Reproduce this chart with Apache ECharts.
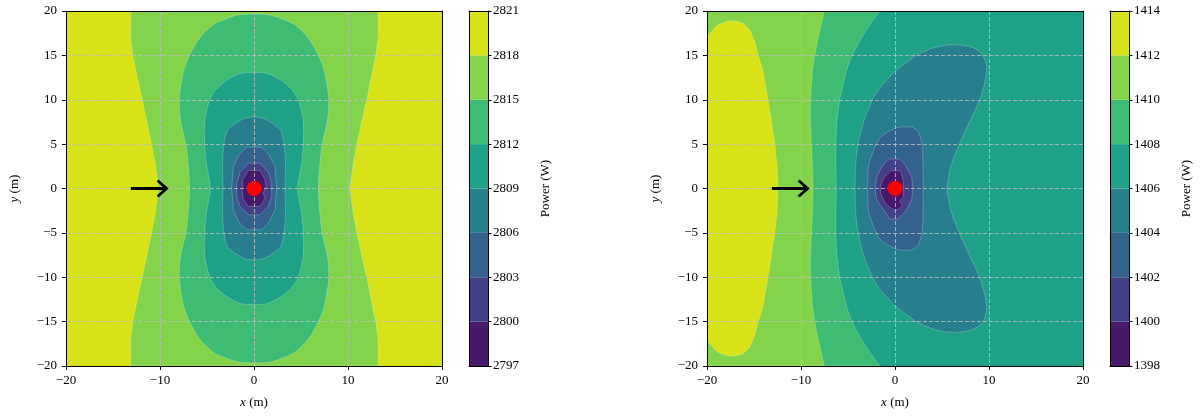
<!DOCTYPE html>
<html><head><meta charset="utf-8">
<script src="https://cdn.jsdelivr.net/npm/echarts@6/dist/echarts.min.js"></script>
<style>html,body{margin:0;padding:0;background:#fff}#c{width:1200px;height:416px}</style>
</head><body><div id="c"></div>
<script>
// ---------------- data ----------------
const leftLevels = [2797, 2800, 2803, 2806, 2809, 2812, 2815, 2818, 2821];
const rightLevels = [1398, 1400, 1402, 1404, 1406, 1408, 1410, 1412, 1414];
const xTickStep = 10, yTickStep = 5, axisMin = -20, axisMax = 20;
const bandColors = ['#48186a', '#424086', '#33638d', '#277f8e', '#1fa188', '#3fbc73', '#84d44b', '#d8e219'];

// Left panel contour regions (x, y in m)
const leftFull = [[-20, -20], [20, -20], [20, 20], [-20, 20]]; // 2818-2821
const leftBelow2818 = [[-13.1, 20], [-13.15, 17], [-12.9, 15], [-12.55, 13.2], [-11.9, 10], [-11.4, 7.5], [-10.9, 5], [-10.5, 2.7], [-10.15, 0], [-10.5, -2.7], [-10.9, -5], [-11.4, -7.5], [-11.9, -10], [-12.55, -13.2], [-12.9, -15], [-13.15, -17], [-13.1, -20],
  [13.2, -20], [13.2, -17], [12.95, -15], [12.6, -13.2], [12.0, -10], [11.45, -7.5], [10.95, -5], [10.55, -2.7], [10.2, 0], [10.55, 2.7], [10.95, 5], [11.45, 7.5], [12.0, 10], [12.6, 13.2], [12.95, 15], [13.2, 17], [13.2, 20]];
const leftBelow2815 = [[0, 19.65], [1.7, 19.55], [3.0, 19.1], [4.35, 18.44], [5.8, 16.94], [6.85, 15], [7.5, 13.2], [7.95, 10], [7.8, 7.55], [7.25, 5], [7.0, 2.67], [6.85, 0], [7.0, -2.67], [7.25, -5], [7.8, -7.55], [7.95, -10], [7.5, -13.2], [6.85, -15], [5.8, -16.94], [4.35, -18.44], [3.0, -19.1], [1.7, -19.55], [0, -19.65],
  [-1.7, -19.55], [-3.0, -19.1], [-4.35, -18.44], [-5.8, -16.94], [-6.85, -15], [-7.5, -13.2], [-7.95, -10], [-7.8, -7.55], [-7.25, -5], [-7.0, -2.67], [-6.85, 0], [-7.0, 2.67], [-7.25, 5], [-7.8, 7.55], [-7.95, 10], [-7.5, 13.2], [-6.85, 15], [-5.8, 16.94], [-4.35, 18.44], [-3.0, 19.1], [-1.7, 19.55]];
const leftBelow2812 = [[0, 13.05], [1.3, 13.0], [2.5, 12.44], [3.5, 11.7], [4.2, 10.93], [4.7, 10], [5.1, 8.5], [5.25, 7.55], [5.25, 5], [5.05, 2.67], [4.65, 0], [5.05, -2.67], [5.25, -5], [5.25, -7.55], [5.1, -8.5], [4.7, -10], [4.2, -10.93], [3.5, -11.7], [2.5, -12.44], [1.3, -13.0], [0, -13.05],
  [-1.3, -13.0], [-2.5, -12.44], [-3.5, -11.7], [-4.2, -10.93], [-4.7, -10], [-5.1, -8.5], [-5.25, -7.55], [-5.25, -5], [-5.05, -2.67], [-4.65, 0], [-5.05, 2.67], [-5.25, 5], [-5.25, 7.55], [-5.1, 8.5], [-4.7, 10], [-4.2, 10.93], [-3.5, 11.7], [-2.5, 12.44], [-1.3, 13.0]];
const leftBelow2809 = [[0, 8.05], [0.9, 7.95], [1.65, 7.55], [2.4, 7.0], [2.9, 6.43], [3.2, 5.0], [3.35, 2.67], [3.3, 0], [3.35, -2.67], [3.2, -5.0], [2.9, -6.43], [2.4, -7.0], [1.65, -7.55], [0.9, -7.95], [0, -8.05],
  [-0.9, -7.95], [-1.65, -7.55], [-2.4, -7.0], [-2.9, -6.43], [-3.2, -5.0], [-3.35, -2.67], [-3.3, 0], [-3.35, 2.67], [-3.2, 5.0], [-2.9, 6.43], [-2.4, 7.0], [-1.65, 7.55], [-0.9, 7.95]];
const leftBelow2806 = [[-0.78, 4.66], [0.82, 4.66], [1.6, 3.8], [2.23, 2.48], [2.41, 0], [2.23, -2.4], [1.6, -3.8], [0.82, -4.65], [-0.78, -4.65], [-1.6, -3.8], [-2.2, -2.4], [-2.38, 0], [-2.2, 2.48], [-1.6, 3.8]];
const leftBelow2803 = [[-0.6, 2.86], [0.64, 2.86], [1.52, 1.84], [1.88, 0.57], [1.88, -0.9], [1.52, -2.02], [0.64, -2.96], [-0.6, -2.96], [-1.49, -2.02], [-1.84, -0.9], [-1.84, 0.57], [-1.49, 1.84]];
const leftBelow2800 = [[-0.6, 2.03], [0.64, 2.03], [1.17, 0.98], [1.28, 0.2], [0.95, -0.5], [1.2, -1.1], [0.64, -2.0], [-0.6, -2.0], [-1.14, -1.27], [-1.25, -0.2], [-1.21, 0.98]];

// Right panel contour regions
const rightFull = [[-20, -20], [20, -20], [20, 20], [-20, 20]]; // 1406-1408
const rightAbove1408 = [[-20, 20], [-1.6, 20], [-2.7, 18.44], [-3.6, 16.94], [-4.6, 15], [-5.2, 13.19], [-5.9, 10], [-6.2, 7.55], [-6.3, 5], [-6.3, 2.67], [-6.25, 0], [-6.3, -2.67], [-6.3, -5], [-6.2, -7.55], [-5.9, -10], [-5.2, -13.19], [-4.6, -15], [-3.6, -16.94], [-2.7, -18.44], [-1.6, -20], [-20, -20]];
const rightAbove1410 = [[-20, 20], [-7.52, 20], [-8.19, 16.94], [-8.55, 15], [-8.79, 13.19], [-9.01, 10], [-9.01, 7.55], [-8.9, 5], [-8.79, 2.67], [-8.72, 0], [-8.79, -2.67], [-8.9, -5], [-9.01, -7.55], [-9.01, -10], [-8.79, -13.19], [-8.55, -15], [-8.19, -16.94], [-7.52, -20], [-20, -20]];
const rightAbove1412 = [[-20, 17.13], [-18.95, 18.37], [-17.94, 18.82], [-17.06, 18.89], [-16.17, 18.63], [-15.46, 17.88], [-14.93, 16.57], [-14.57, 15.06], [-14.04, 13.19], [-13.51, 9.99], [-13.16, 7.55], [-12.8, 5.0], [-12.55, 2.67], [-12.45, 0], [-12.55, -2.67], [-12.8, -5.0], [-13.16, -7.55], [-13.51, -9.99], [-14.04, -13.19], [-14.57, -15.06], [-14.93, -16.57], [-15.46, -17.88], [-16.17, -18.63], [-17.06, -18.89], [-17.94, -18.82], [-18.95, -18.37], [-20, -17.13]];
const rightBelow1406 = [[-4.25, 0], [-4.18, 2.67], [-3.94, 5.0], [-3.33, 7.55], [-2.4, 9.99], [-1.63, 11.31], [0, 13.19], [2.27, 15.0], [4.04, 15.82], [5.82, 16.19], [7.94, 16.0], [9.18, 15.25], [9.72, 13.94], [9.65, 12.44], [9.01, 9.99], [7.94, 7.55], [6.85, 5.0], [5.99, 2.67], [5.64, 0.79], [5.53, 0],
  [5.64, -0.79], [5.99, -2.67], [6.85, -5.0], [7.94, -7.55], [9.01, -9.99], [9.65, -12.44], [9.72, -13.94], [9.18, -15.25], [7.94, -16.0], [5.82, -16.19], [4.04, -15.82], [2.27, -15.0], [0, -13.19], [-1.63, -11.31], [-2.4, -9.99], [-3.33, -7.55], [-3.94, -5.0], [-4.18, -2.67]];
const rightBelow1404 = [[-2.9, 0], [-2.8, 2.67], [-2.0, 5.0], [-1.63, 5.67], [-0.9, 6.3], [0.35, 6.9], [1.8, 6.9], [2.45, 6.43], [2.87, 5.0], [2.98, 2.67], [3.0, 0], [2.98, -2.67], [2.87, -5.0], [2.45, -6.43], [1.8, -6.9], [0.35, -6.9], [-0.9, -6.3], [-1.63, -5.67], [-2.0, -5.0], [-2.8, -2.67]];
const rightBelow1402 = [[-0.71, 3.31], [0.53, 3.31], [1.06, 2.68], [1.77, 1.35], [1.88, 0], [1.77, -1.27], [1.24, -2.39], [0.35, -3.45], [-0.53, -3.45], [-1.24, -2.39], [-1.95, -1.27], [-2.13, 0], [-1.95, 1.35], [-1.24, 2.68]];
const rightBelow1400 = [[-0.45, 2.0], [0.6, 2.0], [0.89, 0.79], [0.89, -1.0], [0.5, -1.4], [0.75, -1.9], [0.35, -2.39], [-0.18, -2.39], [-1.06, -1.65], [-1.55, -0.5], [-1.55, 0.45], [-1.06, 1.35]];

const turbine = [[0, 0]];
const windArrow = [[-13.1, 0], [-9.3, 0]];

// region lists: [polygon, band index, smoothing]
const leftRegions = [[leftFull, 7, 0], [leftBelow2818, 6, 0], [leftBelow2815, 5, 0.3], [leftBelow2812, 4, 0.3], [leftBelow2809, 3, 0.3], [leftBelow2806, 2, 0], [leftBelow2803, 1, 0], [leftBelow2800, 0, 0]];
const rightRegions = [[rightFull, 4, 0], [rightAbove1408, 5, 0], [rightAbove1410, 6, 0], [rightAbove1412, 7, 0], [rightBelow1406, 3, 0.3], [rightBelow1404, 2, 0.2], [rightBelow1402, 1, 0], [rightBelow1400, 0, 0]];

// ---------------- chart ----------------
const FONT = 'Liberation Serif';
const FS = 13;
const fmt = v => String(v).replace('-', '\u2212');
const txt = { fontFamily: FONT, fontSize: FS, color: '#000' };
const rich = { i: { fontFamily: FONT, fontSize: FS, fontStyle: 'italic', color: '#000' } };

const G = [
  { left: 66, top: 11, width: 376, height: 355 },
  { left: 469, top: 11, width: 19, height: 355 },
  { left: 707, top: 11, width: 376, height: 355 },
  { left: 1110, top: 11, width: 19, height: 355 }
];

function frameAxis(gi, pos, extra) {
  return Object.assign({
    gridIndex: gi, type: 'value', position: pos, z: 5,
    axisLine: { show: true, onZero: false, lineStyle: { color: '#000', width: 1 } },
    axisTick: { show: false }, axisLabel: { show: false }, splitLine: { show: false }
  }, extra);
}
const splitStyle = { show: true, lineStyle: { color: 'rgba(190,190,190,0.95)', width: 0.9, type: [4, 2] } };

const xAxes = [], yAxes = [];
[0, 2].forEach(gi => {
  xAxes.push({
    gridIndex: gi, type: 'value', min: axisMin, max: axisMax, interval: xTickStep, position: 'bottom', z: 3,
    axisLine: { show: true, onZero: false, lineStyle: { color: '#000', width: 1 } },
    axisTick: { show: true, inside: false, length: 4, lineStyle: { color: '#000', width: 1 } },
    axisLabel: Object.assign({ margin: 8, formatter: fmt }, txt),
    splitLine: splitStyle,
    name: '{i|x} (m)', nameLocation: 'middle', nameGap: 30, nameTextStyle: Object.assign({ rich }, txt)
  });
  xAxes.push(frameAxis(gi, 'top', { min: axisMin, max: axisMax }));
  yAxes.push({
    gridIndex: gi, type: 'value', min: axisMin, max: axisMax, interval: yTickStep, position: 'left', z: 3,
    axisLine: { show: true, onZero: false, lineStyle: { color: '#000', width: 1 } },
    axisTick: { show: true, inside: false, length: 4, lineStyle: { color: '#000', width: 1 } },
    axisLabel: Object.assign({ margin: 9, formatter: fmt }, txt),
    splitLine: splitStyle,
    name: '{i|y} (m)', nameLocation: 'middle', nameGap: 45, nameRotate: 90, nameTextStyle: Object.assign({ rich }, txt)
  });
  yAxes.push(frameAxis(gi, 'right', { min: axisMin, max: axisMax }));
});
// colorbars: y axis runs over band index, labelled with the levels
[[1, leftLevels], [3, rightLevels]].forEach(([gi, levels]) => {
  xAxes.push(frameAxis(gi, 'bottom', { min: 0, max: 1 }));
  xAxes.push(frameAxis(gi, 'top', { min: 0, max: 1 }));
  yAxes.push(frameAxis(gi, 'left', { min: 0, max: levels.length - 1 }));
  yAxes.push(frameAxis(gi, 'right', {
    min: 0, max: levels.length - 1, interval: 1,
    axisTick: { show: true, inside: false, length: 3.5, lineStyle: { color: '#000', width: 1 } },
    axisLabel: Object.assign({ show: true, margin: 5, formatter: v => String(levels[v]) }, txt),
    name: 'Power (W)', nameLocation: 'middle', nameGap: 51, nameRotate: 90, nameTextStyle: txt
  }));
});

function contourSeries(regions, xi, yi) {
  return {
    type: 'custom', xAxisIndex: xi, yAxisIndex: yi, z: 2, clip: true, silent: true,
    data: regions.map((r, i) => [r[0][0][0], r[0][0][1], i]),
    renderItem: (params, api) => {
      const r = regions[params.dataIndex];
      const pts = r[0].map(p => api.coord(p));
      return {
        type: 'polygon', shape: { points: pts, smooth: r[2] || 0 },
        style: { fill: bandColors[r[1]], stroke: params.dataIndex === 0 ? null : 'rgba(255,255,255,0.28)', lineWidth: 0.8 }
      };
    }
  };
}
function colorbarSeries(levels, xi, yi) {
  return {
    type: 'custom', xAxisIndex: xi, yAxisIndex: yi, z: 2, silent: true,
    data: levels.slice(0, -1).map((lv, i) => [0, i, lv]),
    renderItem: (params, api) => {
      const i = params.dataIndex;
      const a = api.coord([0, i]), b = api.coord([1, i + 1]);
      return { type: 'rect', shape: { x: a[0], y: b[1], width: b[0] - a[0], height: a[1] - b[1] }, style: { fill: bandColors[i] } };
    }
  };
}
function arrowSeries(xi, yi) {
  return {
    type: 'custom', xAxisIndex: xi, yAxisIndex: yi, z: 4, silent: true,
    data: [windArrow[0]],
    renderItem: (params, api) => {
      const a = api.coord(windArrow[0]), b = api.coord(windArrow[1]);
      return {
        type: 'group', children: [
          { type: 'polyline', shape: { points: [a, [b[0] - 1, b[1]]] }, style: { stroke: '#000', lineWidth: 3, fill: null } },
          { type: 'polyline', shape: { points: [[b[0] - 9, b[1] - 8], [b[0], b[1]], [b[0] - 9, b[1] + 8]] }, style: { stroke: '#000', lineWidth: 2.8, fill: null, lineJoin: 'miter' } }
        ]
      };
    }
  };
}
function turbineSeries(xi, yi) {
  return { type: 'scatter', xAxisIndex: xi, yAxisIndex: yi, z: 4, silent: true, data: turbine, symbol: 'circle', symbolSize: 15, itemStyle: { color: '#ff0000', opacity: 1 } };
}

const option = {
  backgroundColor: '#fff',
  animation: false,
  grid: G,
  xAxis: xAxes,
  yAxis: yAxes,
  series: [
    contourSeries(leftRegions, 0, 0), arrowSeries(0, 0), turbineSeries(0, 0),
    contourSeries(rightRegions, 2, 2), arrowSeries(2, 2), turbineSeries(2, 2),
    colorbarSeries(leftLevels, 4, 5),
    colorbarSeries(rightLevels, 6, 7)
  ]
};
const chart = echarts.init(document.getElementById('c'), null, { renderer: 'canvas' });
chart.setOption(option);
</script></body></html>
